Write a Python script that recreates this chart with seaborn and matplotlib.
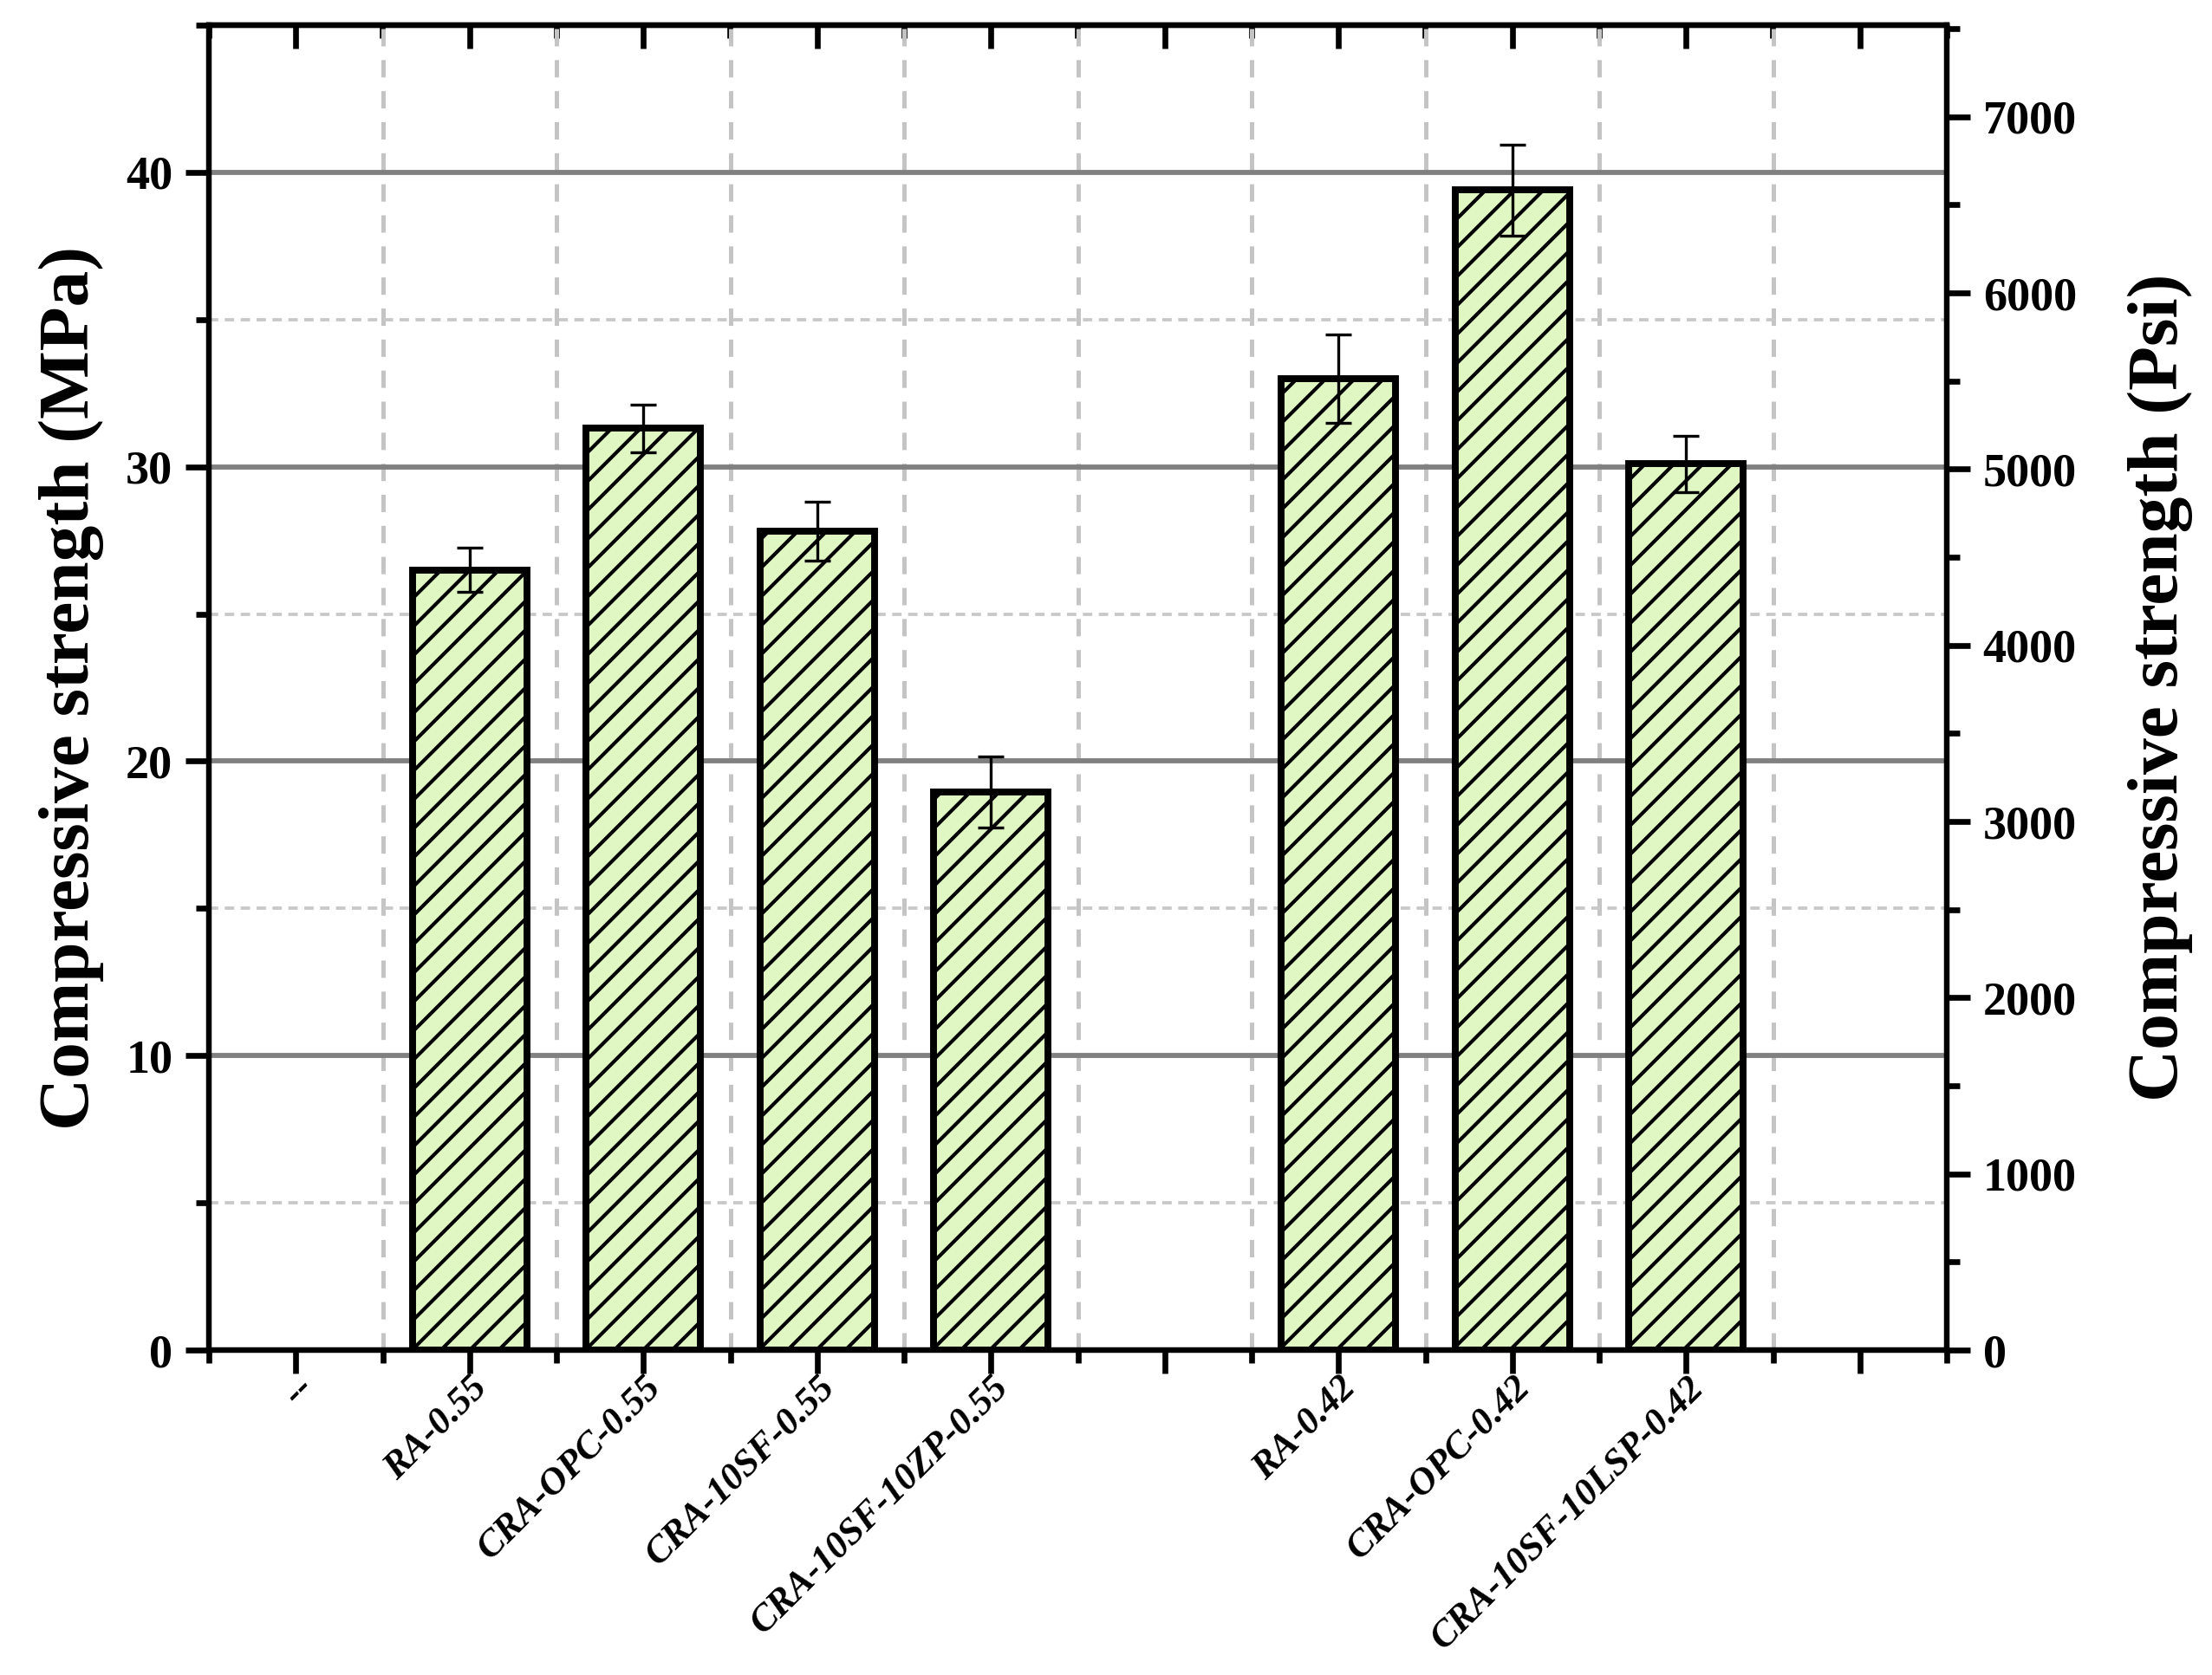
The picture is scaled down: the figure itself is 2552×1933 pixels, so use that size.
import numpy as np
import pandas as pd
import matplotlib
matplotlib.use("Agg")
import matplotlib.pyplot as plt
import seaborn as sns
from matplotlib.ticker import MultipleLocator, FixedLocator


# ==========================================
# DATA
# ==========================================
categories = [
    "--", "RA-0.55", "CRA-OPC-0.55", "CRA-10SF-0.55", "CRA-10SF-10ZP-0.55",
    "gap", "RA-0.42", "CRA-OPC-0.42", "CRA-10SF-10LSP-0.42", "end"
]

tick_labels = [
    "--", "RA-0.55", "CRA-OPC-0.55", "CRA-10SF-0.55", "CRA-10SF-10ZP-0.55",
    "", "RA-0.42", "CRA-OPC-0.42", "CRA-10SF-10LSP-0.42", ""
]

strength_mpa = [np.nan, 26.5, 31.3, 27.8, 18.95, np.nan, 33.0, 39.4, 30.1, np.nan]

error_mpa = [np.nan, 0.75, 0.8, 1.0, 1.2, np.nan, 1.5, 1.55, 0.95, np.nan]

mpa_ticks = [0, 10, 20, 30, 40]
psi_ticks = [0, 1000, 2000, 3000, 4000, 5000, 6000, 7000]

df = pd.DataFrame({"mix": categories, "mpa": strength_mpa})


# ==========================================
# STYLE
# ==========================================
sns.set_style("ticks")
plt.rcParams["font.family"] = ["Liberation Serif", "DejaVu Serif"]
plt.rcParams["font.weight"] = "bold"
plt.rcParams["hatch.linewidth"] = 1.0
plt.rcParams["hatch.color"] = "black"
plt.rcParams["lines.scale_dashes"] = False
for key in ["text.color", "axes.labelcolor", "xtick.color", "ytick.color",
            "axes.edgecolor"]:
    plt.rcParams[key] = "black"

W, H = 2552, 1933
fig = plt.figure(figsize=(W / 300, H / 300), dpi=300)
ax = fig.add_axes([241 / W, 1 - 1558 / H, (2246 - 241) / W, (1558 - 29) / H])


# ==========================================
# BARS
# ==========================================
sns.barplot(
    data=df,
    x="mix",
    y="mpa",
    order=categories,
    errorbar=None,
    color="#E0F7C4",
    saturation=1,
    width=0.66,
    edgecolor="black",
    linewidth=1.9,
    hatch="///",
    ax=ax
)

ax.errorbar(
    np.arange(len(categories)),
    strength_mpa,
    yerr=error_mpa,
    fmt="none",
    ecolor="black",
    elinewidth=0.8,
    capsize=3.6,
    capthick=0.8,
    zorder=5
)

ax.set_xlim(-0.5, len(categories) - 0.5)
ax.set_ylim(0, 45)

# ==========================================
# AXES / GRID
# ==========================================
ax.set_axisbelow(True)

ax.set_xticks(np.arange(len(categories)))
ax.set_xticklabels(
    tick_labels,
    rotation=45,
    ha="right",
    rotation_mode="anchor",
    fontsize=10.5,
    fontweight="bold",
    fontstyle="italic"
)
ax.xaxis.set_minor_locator(FixedLocator(np.arange(-0.5, len(categories), 1)))

ax.set_yticks(mpa_ticks)
ax.yaxis.set_minor_locator(MultipleLocator(5))
ax.tick_params(axis="y", labelsize=13)

ax.tick_params(which="major", direction="out", length=6.5, width=1.6)
ax.tick_params(which="minor", direction="out", length=3.6, width=1.6)
ax.tick_params(axis="x", pad=-1)

ax.yaxis.grid(True, which="major", color="#808080", linewidth=1.4, linestyle="-")
ax.yaxis.grid(True, which="minor", color="#c8c8c8", linewidth=0.9,
              linestyle=(0, (2.6, 1.8)))
ax.xaxis.grid(True, which="minor", color="#c4c4c4", linewidth=1.2,
              linestyle=(0, (4.8, 3.8)))
ax.xaxis.grid(False, which="major")

ax.set_xlabel("")
ax.set_ylabel("Compressive strength (MPa)", fontsize=20, fontweight="bold",
              labelpad=6)

for side in ["left", "right", "top", "bottom"]:
    ax.spines[side].set_visible(True)
    ax.spines[side].set_linewidth(1.5)

top = ax.secondary_xaxis("top")
top.set_xticks(np.arange(len(categories)))
top.set_xticklabels([])
top.xaxis.set_minor_locator(FixedLocator(np.arange(-0.5, len(categories), 1)))
top.tick_params(which="major", direction="in", length=6.5, width=1.6)
top.tick_params(which="minor", direction="in", length=3.6, width=1.6)
top.spines["top"].set_linewidth(1.5)

# ==========================================
# RIGHT AXIS (PSI)
# ==========================================
ax2 = ax.twinx()
ax2.set_ylim(0, 7520)
ax2.set_yticks(psi_ticks)
ax2.yaxis.set_minor_locator(MultipleLocator(500))
ax2.tick_params(which="major", direction="out", length=6.5, width=1.6,
                labelsize=13)
ax2.tick_params(which="minor", direction="out", length=3.6, width=1.6)
ax2.set_ylabel("Compressive strength (Psi)", fontsize=20, fontweight="bold",
               labelpad=14)
for side in ["left", "right", "top", "bottom"]:
    ax2.spines[side].set_linewidth(1.5)

fig.savefig("out.png", dpi=300)
